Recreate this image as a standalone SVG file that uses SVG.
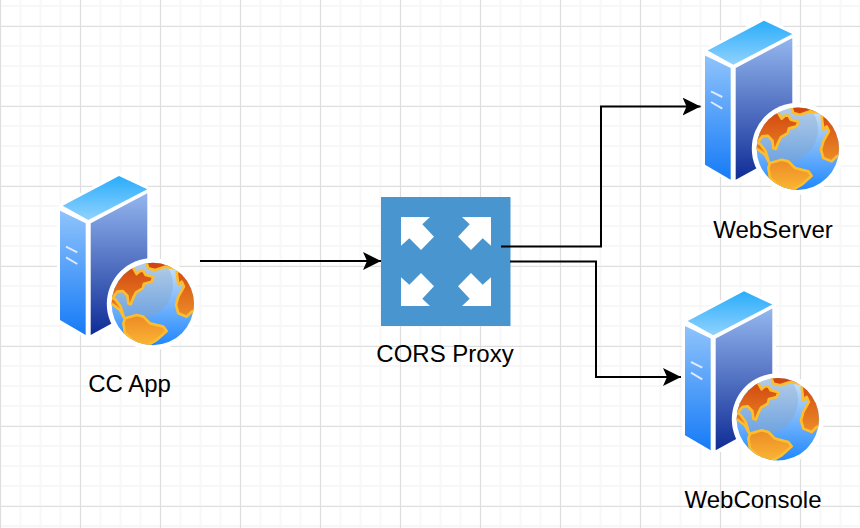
<svg xmlns="http://www.w3.org/2000/svg" width="860" height="528" viewBox="0 0 860 528">
<style>
.lbl{font-family:"Liberation Sans",Arial,sans-serif;font-size:24px;fill:#000;text-anchor:middle}
.conn{fill:none;stroke:#000;stroke-width:2}
.land{fill:url(#gLand);stroke:#fdbd2c;stroke-width:8;stroke-linejoin:round}
</style>
<defs>
<pattern id="minor" width="20" height="20" patternUnits="userSpaceOnUse" x="-0.5" y="5">
<path d="M0 1H20M1 0V20" fill="none" stroke="#f7f7f7" stroke-width="2"/>
</pattern>
<pattern id="major" width="80" height="80" patternUnits="userSpaceOnUse" x="0" y="26">
<path d="M0 .5H80M.5 0V80" fill="none" stroke="#dedede" stroke-width="1"/>
</pattern>
<linearGradient id="gTop" x1="0" y1="0" x2="0" y2="1"><stop offset="0" stop-color="#29adfb"/><stop offset="1" stop-color="#90d2fd"/></linearGradient>
<linearGradient id="gLeft" x1="0" y1="0" x2="0" y2="1"><stop offset="0" stop-color="#8fc3fb"/><stop offset="1" stop-color="#167bf7"/></linearGradient>
<linearGradient id="gRight" x1="0" y1="0" x2="0" y2="1"><stop offset="0" stop-color="#94b6ee"/><stop offset="1" stop-color="#0f2c96"/></linearGradient>
<linearGradient id="gSea" x1="0" y1="0" x2="0" y2="1"><stop offset="0" stop-color="#cfe4f7"/><stop offset="1" stop-color="#1f87ff"/></linearGradient>
<linearGradient id="gInner" x1="0" y1="0" x2="0" y2="1"><stop offset="0" stop-color="#c0d5e8"/><stop offset="1" stop-color="#6fa3e0"/></linearGradient>
<linearGradient id="gLand" gradientUnits="userSpaceOnUse" x1="0" y1="22" x2="0" y2="272"><stop offset="0" stop-color="#d0420f"/><stop offset="1" stop-color="#fbb533"/></linearGradient>
<clipPath id="gc"><circle cx="152.800" cy="304" r="41.200"/></clipPath>
<marker id="arr" markerUnits="userSpaceOnUse" markerWidth="20" markerHeight="20" refX="18" refY="9" orient="auto"><path d="M0 0L18 9L0 18L4 9Z" fill="#000"/></marker>
<g id="icon">
<path d="M119 172L151 188V320L88 339L57 322V209L60 204Z" fill="#fff"/>
<path d="M119 176L147.300 189.300L88.300 220L62.700 205.700Z" fill="url(#gTop)"/>
<path d="M60 210.700L85.700 223.300V335L60 320Z" fill="url(#gLeft)"/>
<path d="M90.700 223.300L147.300 193.300V304L90.700 335Z" fill="url(#gRight)"/>
<path d="M66 246.700L77.300 252.300M66 257.300L77.300 264" stroke="#dce9fb" stroke-width="2" fill="none"/>
<circle cx="152.800" cy="304" r="46" fill="#fff"/>
<circle cx="152.800" cy="304" r="41.200" fill="url(#gSea)"/>
<g clip-path="url(#gc)">
<circle cx="140" cy="285" r="33" fill="url(#gInner)"/>
<g transform="translate(100 255) scale(.33333)">
<path class="land" d="M20 122L38 128L52 110L68 108L82 122L85 145L92 148L100 128L108 112L128 100L132 86L155 80L160 66L137 60L130 48L120 48L110 57L100 40L100 5L20 30Z"/>
<path class="land" d="M135 10L145 40L165 45L195 35L225 40L225 5Z"/>
<path class="land" d="M300 30L230 50L235 90L245 80L252 95L235 125L228 150L235 175L260 185L275 170L300 160Z"/>
<path class="land" d="M70 205L75 190L110 180L130 185L150 205L190 215L200 228L170 255L135 275L100 258L75 235Z"/>
<path class="land" d="M30 128L45 132L62 155L72 188L60 165L40 150L30 145Z"/>
</g>
</g>
</g>
</defs>
<rect width="860" height="528" fill="#fff"/>
<rect width="860" height="528" fill="url(#minor)"/>
<rect width="860" height="528" fill="url(#major)"/>
<g id="cc-app"><use href="#icon"/><text class="lbl" x="129.500" y="392">CC App</text></g>
<g id="cors-proxy">
<rect x="381" y="197" width="129.500" height="129" fill="#4995d0"/>
<path d="M401 217H430L422.300 224.300L434 236.700L421 250L409.300 238.300L401 245.700Z" fill="#fff"/>
<path d="M491 217H462L469.700 224.300L458 236.700L471 250L482.700 238.300L491 245.700Z" fill="#fff"/>
<path d="M401 306H430L422.300 298.700L434 286.300L421 273L409.300 284.700L401 277.300Z" fill="#fff"/>
<path d="M491 306H462L469.700 298.700L458 286.300L471 273L482.700 284.700L491 277.300Z" fill="#fff"/>
<text class="lbl" x="445" y="362">CORS Proxy</text>
</g>
<g id="webserver"><use href="#icon" transform="translate(645 -155.300)"/><text class="lbl" x="773" y="238">WebServer</text></g>
<g id="webconsole"><use href="#icon" transform="translate(625 115.300)"/><text class="lbl" x="753" y="508">WebConsole</text></g>
<g id="connectors">
<path class="conn" d="M200 261H381" marker-end="url(#arr)"/>
<path class="conn" d="M501 246.500H601V106.500H700.500" marker-end="url(#arr)"/>
<path class="conn" d="M510 261.500H596V377H681" marker-end="url(#arr)"/>
</g>
</svg>
